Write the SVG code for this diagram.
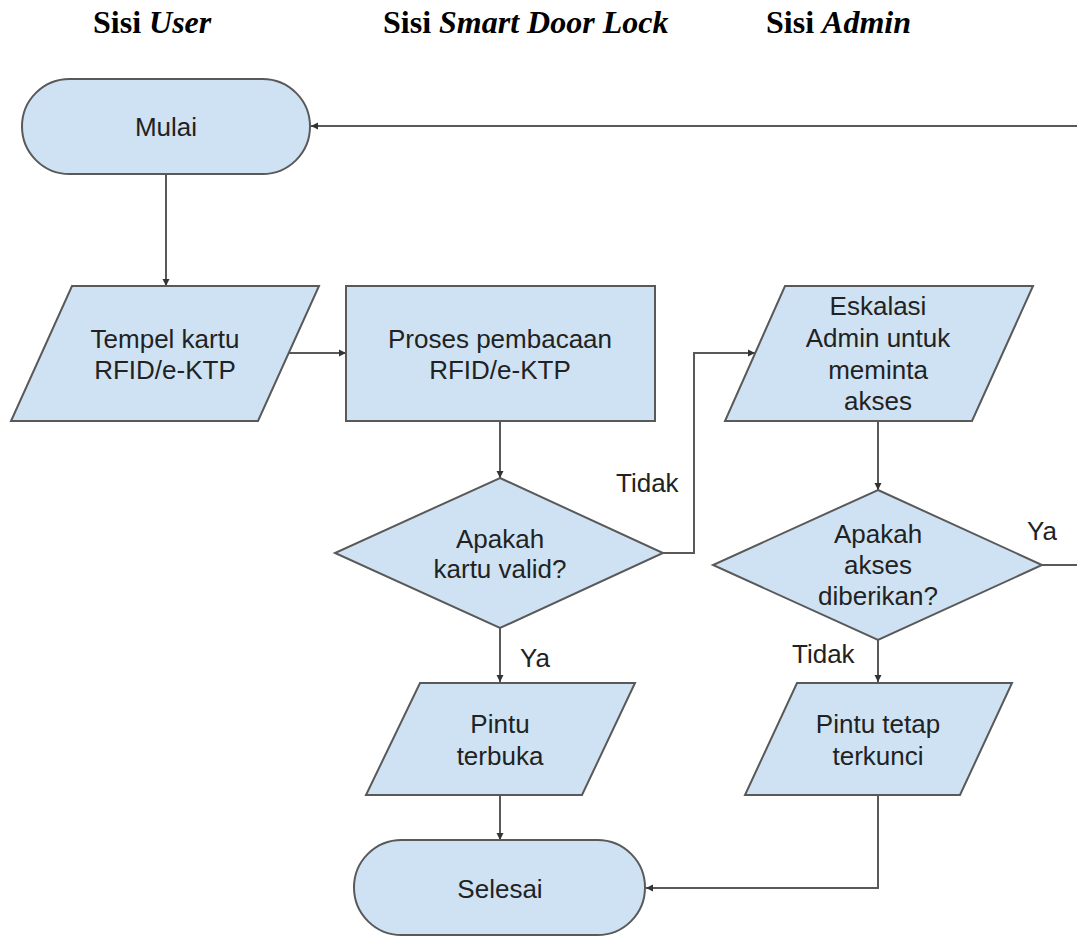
<svg xmlns="http://www.w3.org/2000/svg" width="1077" height="937" viewBox="0 0 1077 937">
<style>
.shape{fill:#cfe2f3;stroke:#595959;stroke-width:2}
.t{font-family:"Liberation Sans",Arial,sans-serif;font-size:26px;fill:#222;text-anchor:middle}
.lbl{font-family:"Liberation Sans",Arial,sans-serif;font-size:26px;fill:#222}
.title{font-family:"Liberation Serif","Times New Roman",serif;font-size:32px;font-weight:bold;fill:#000}
.conn{fill:none;stroke:#595959;stroke-width:2}
</style>
<defs>
<marker id="arr" markerUnits="userSpaceOnUse" markerWidth="10" markerHeight="10" refX="8" refY="5" orient="auto">
<path d="M1,1.5 L8,5 L1,8.5 Z" fill="#333"/>
</marker>
</defs>
<rect width="1077" height="937" fill="#fff"/>
<g id="titles">
<text class="title" x="93" y="33">Sisi <tspan font-style="italic">User</tspan></text>
<text class="title" x="383" y="33">Sisi <tspan font-style="italic">Smart Door Lock</tspan></text>
<text class="title" x="766" y="33">Sisi <tspan font-style="italic">Admin</tspan></text>
</g>
<g id="connectors">
<path class="conn" d="M166,175 V286" marker-end="url(#arr)"/>
<path class="conn" d="M289,353 H346" marker-end="url(#arr)"/>
<path class="conn" d="M500,421 V478" marker-end="url(#arr)"/>
<path class="conn" d="M663,553 H694 V353 H755" marker-end="url(#arr)"/>
<path class="conn" d="M500,628 V682" marker-end="url(#arr)"/>
<path class="conn" d="M500,795 V840" marker-end="url(#arr)"/>
<path class="conn" d="M878,421 V490" marker-end="url(#arr)"/>
<path class="conn" d="M878,640 V682" marker-end="url(#arr)"/>
<path class="conn" d="M878,795 V888 H646" marker-end="url(#arr)"/>
<path class="conn" d="M1042,565 H1095 V126 H311" marker-end="url(#arr)"/>
<text class="lbl" x="616" y="492">Tidak</text>
<text class="lbl" x="520" y="667">Ya</text>
<text class="lbl" x="1027" y="540">Ya</text>
<text class="lbl" x="792" y="663">Tidak</text>
</g>
<g id="mulai">
<rect class="shape" x="22" y="79" width="288" height="95" rx="47.5"/>
<text class="t" x="166" y="136">Mulai</text>
</g>
<g id="tempel">
<polygon class="shape" points="72,286 319,286 258,421 11,421"/>
<text class="t" x="165" y="348">Tempel kartu</text>
<text class="t" x="165" y="379">RFID/e-KTP</text>
</g>
<g id="proses">
<rect class="shape" x="346" y="286" width="309" height="135"/>
<text class="t" x="500" y="348">Proses pembacaan</text>
<text class="t" x="500" y="379">RFID/e-KTP</text>
</g>
<g id="valid">
<polygon class="shape" points="500,478 663,553 500,628 335,553"/>
<text class="t" x="500" y="548">Apakah</text>
<text class="t" x="500" y="578">kartu valid?</text>
</g>
<g id="eskalasi">
<polygon class="shape" points="785,286 1033,286 972,421 725,421"/>
<text class="t" x="878" y="315">Eskalasi</text>
<text class="t" x="878" y="347">Admin untuk</text>
<text class="t" x="878" y="379">meminta</text>
<text class="t" x="878" y="410">akses</text>
</g>
<g id="akses">
<polygon class="shape" points="878,490 1042,565 878,640 713,565"/>
<text class="t" x="878" y="543">Apakah</text>
<text class="t" x="878" y="574">akses</text>
<text class="t" x="878" y="605">diberikan?</text>
</g>
<g id="terbuka">
<polygon class="shape" points="420,683 635,683 582,795 366,795"/>
<text class="t" x="500" y="733">Pintu</text>
<text class="t" x="500" y="765">terbuka</text>
</g>
<g id="terkunci">
<polygon class="shape" points="797,683 1012,683 960,795 745,795"/>
<text class="t" x="878" y="733">Pintu tetap</text>
<text class="t" x="878" y="765">terkunci</text>
</g>
<g id="selesai">
<rect class="shape" x="354" y="840" width="291" height="95" rx="47.5"/>
<text class="t" x="500" y="898">Selesai</text>
</g>
</svg>
